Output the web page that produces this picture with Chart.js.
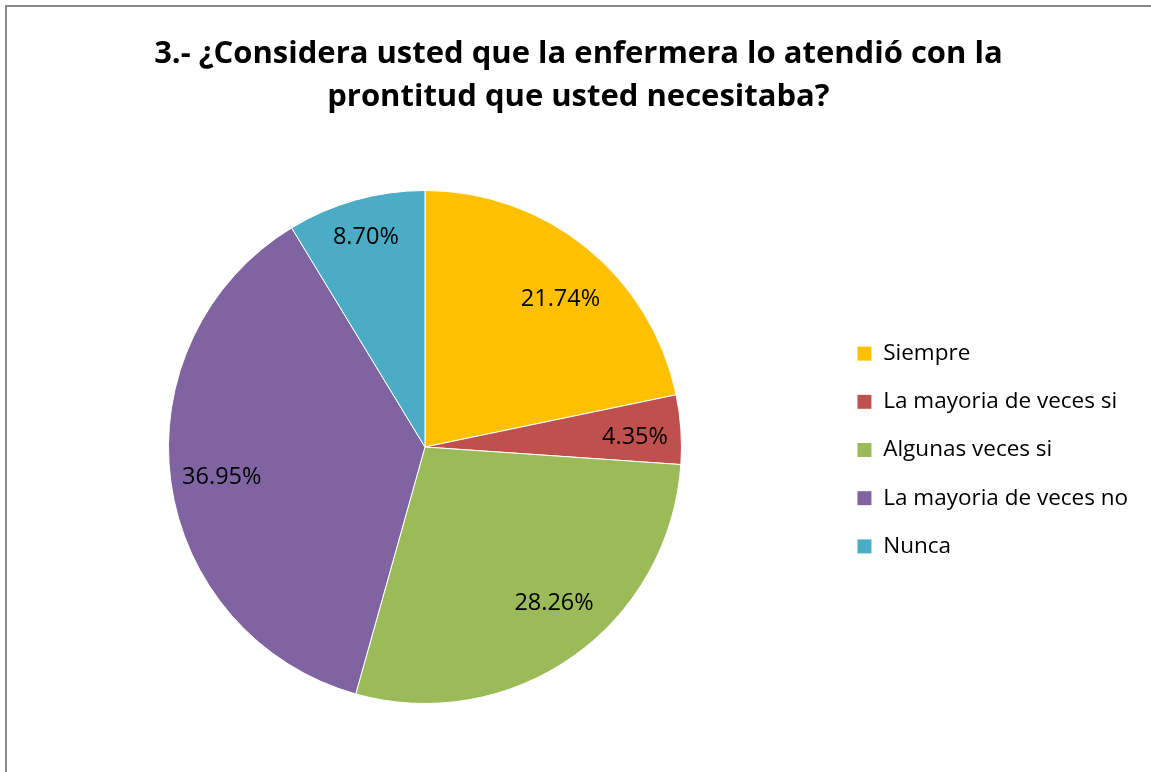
<!DOCTYPE html>
<html><head><meta charset="utf-8">
<script src="https://cdn.jsdelivr.net/npm/chart.js@4.4.0/dist/chart.umd.min.js"></script>
<style>html,body{margin:0;padding:0;background:#fff;overflow:hidden;}</style>
</head><body>
<canvas id="c" width="1151" height="772"></canvas>
<script>
const categories = ['Siempre', 'La mayoria de veces si', 'Algunas veces si', 'La mayoria de veces no', 'Nunca'];
const percentages = [21.74, 4.35, 28.26, 36.95, 8.70];
const sliceColors = ['#FFC000', '#C0504D', '#9BBB59', '#8064A2', '#4BACC6'];
const titleLines = ['3.- ¿Considera usted que la enfermera lo atendió con la', 'prontitud que usted necesitaba?'];
// label placement inside each slice ("best fit"): fraction of radius, angular shift in degrees
const labelRadius = [0.786, 0.82, 0.786, 0.80, 0.854];
const labelAngleShift = [3.1, 0.9, -4.6, -0.2, 0];

const FONT = '"Open Sans", Lato, sans-serif';
const LEGEND_SIZE = 22.5;

const framePlugin = {
  id: 'frame',
  beforeDraw(chart) {
    const ctx = chart.ctx;
    ctx.save();
    ctx.fillStyle = '#ffffff';
    ctx.fillRect(0, 0, chart.width, chart.height);
    ctx.fillStyle = '#888888';
    ctx.fillRect(5, 5, 2, chart.height - 5);
    ctx.fillRect(5, 5, chart.width - 5, 2);
    ctx.restore();
  }
};

const pctLabelPlugin = {
  id: 'pctLabels',
  afterDatasetsDraw(chart) {
    const ctx = chart.ctx;
    const meta = chart.getDatasetMeta(0);
    ctx.save();
    ctx.font = '23.5px ' + FONT;
    ctx.fillStyle = '#000000';
    ctx.textAlign = 'center';
    ctx.textBaseline = 'middle';
    meta.data.forEach((arc, i) => {
      const p = arc.getProps(['x', 'y', 'startAngle', 'endAngle', 'outerRadius'], true);
      const mid = (p.startAngle + p.endAngle) / 2 + labelAngleShift[i] * Math.PI / 180;
      const r = p.outerRadius * labelRadius[i];
      ctx.fillText(percentages[i].toFixed(2) + '%', p.x + Math.cos(mid) * r, p.y + Math.sin(mid) * r + 1.5);
    });
    ctx.restore();
  }
};

new Chart(document.getElementById('c'), {
  type: 'pie',
  data: {
    labels: categories,
    datasets: [{
      data: percentages,
      backgroundColor: sliceColors,
      borderColor: '#ffffff',
      borderWidth: 1
    }]
  },
  options: {
    responsive: false,
    animation: false,
    layout: { padding: { left: 18.7, right: 12.9, top: 0, bottom: 68 } },
    plugins: {
      title: {
        display: true,
        text: titleLines,
        color: '#000000',
        font: { family: FONT, size: 31, weight: 'bold', lineHeight: '43px' },
        padding: { top: 32.5, bottom: 71.5 }
      },
      legend: {
        position: 'right',
        fullSize: false,
        title: {
          display: true,
          text: '',
          font: { family: FONT, size: 5, lineHeight: '6px' },
          padding: 0
        },
        labels: {
          boxWidth: 15,
          boxHeight: 15,
          padding: 48.2 - LEGEND_SIZE,
          color: '#000000',
          font: { family: FONT, size: LEGEND_SIZE }
        }
      },
      tooltip: { enabled: false }
    }
  },
  plugins: [framePlugin, pctLabelPlugin]
});
</script>
</body></html>
